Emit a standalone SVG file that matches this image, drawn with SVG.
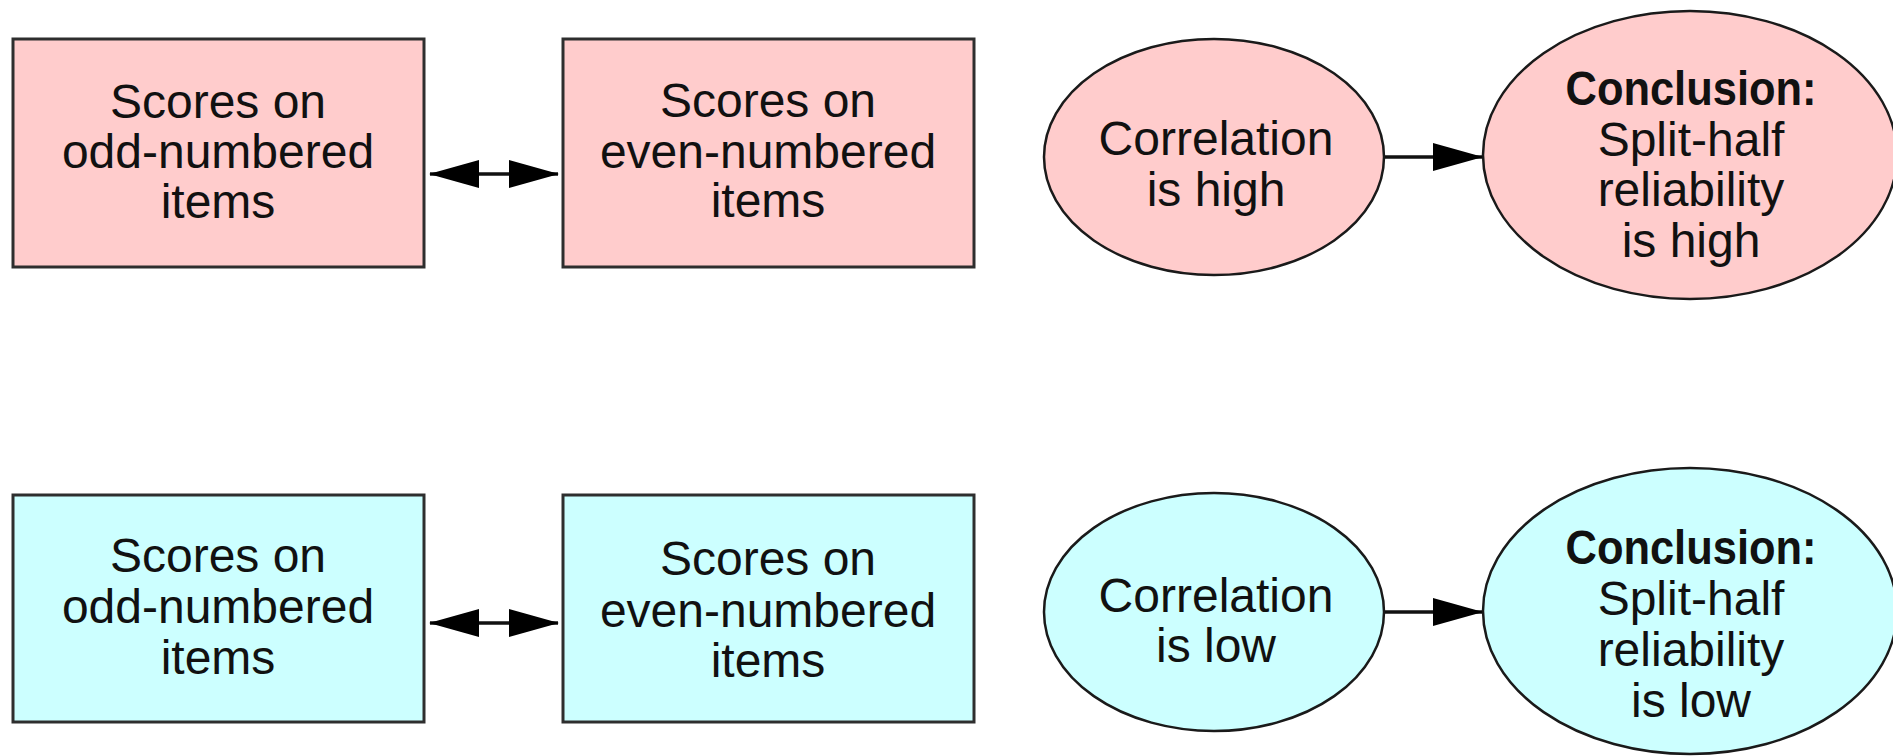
<svg xmlns="http://www.w3.org/2000/svg" width="1893" height="756" viewBox="0 0 1893 756">
  <style>
    .pink { fill: #ffcccc; }
    .cyan { fill: #ccffff; }
    .box { stroke: #2e2e2e; stroke-width: 3; }
    .oval { stroke: #1a1a1a; stroke-width: 2.5; }
    .lbl { font-family: "Liberation Sans", Arial, sans-serif; font-size: 48px; fill: #111; text-anchor: middle; }
    .bold { font-weight: bold; }
    .link { stroke: #111; stroke-width: 3.5; fill: none; }
  </style>
  <defs>
    <marker id="head" viewBox="0 0 50 28" refX="49" refY="14" markerWidth="50" markerHeight="28" markerUnits="userSpaceOnUse" orient="auto-start-reverse">
      <path d="M0,0 L50,14 L0,28 z" fill="#000"/>
    </marker>
  </defs>
  <rect width="1893" height="756" fill="#fff"/>

  <!-- top row: high correlation -->
  <g id="odd-high">
    <rect class="box pink" x="13" y="39" width="411" height="228"/>
    <text class="lbl" x="218" y="118">Scores on</text>
    <text class="lbl" x="218" y="168">odd-numbered</text>
    <text class="lbl" x="218" y="218">items</text>
  </g>
  <g id="even-high">
    <rect class="box pink" x="563" y="39" width="411" height="228"/>
    <text class="lbl" x="768" y="117">Scores on</text>
    <text class="lbl" x="768" y="168">even-numbered</text>
    <text class="lbl" x="768" y="217">items</text>
  </g>
  <g id="corr-high">
    <ellipse class="oval pink" cx="1214" cy="157" rx="170" ry="118"/>
    <text class="lbl" x="1216" y="155">Correlation</text>
    <text class="lbl" x="1216" y="206">is high</text>
  </g>
  <g id="concl-high">
    <ellipse class="oval pink" cx="1690" cy="155" rx="207" ry="144"/>
    <text class="lbl bold" x="1691" y="105" textLength="251" lengthAdjust="spacingAndGlyphs">Conclusion:</text>
    <text class="lbl" x="1691" y="156">Split-half</text>
    <text class="lbl" x="1691" y="206">reliability</text>
    <text class="lbl" x="1691" y="257">is high</text>
  </g>

  <!-- bottom row: low correlation -->
  <g id="odd-low">
    <rect class="box cyan" x="13" y="495" width="411" height="227"/>
    <text class="lbl" x="218" y="572">Scores on</text>
    <text class="lbl" x="218" y="623">odd-numbered</text>
    <text class="lbl" x="218" y="674">items</text>
  </g>
  <g id="even-low">
    <rect class="box cyan" x="563" y="495" width="411" height="227"/>
    <text class="lbl" x="768" y="575">Scores on</text>
    <text class="lbl" x="768" y="627">even-numbered</text>
    <text class="lbl" x="768" y="677">items</text>
  </g>
  <g id="corr-low">
    <ellipse class="oval cyan" cx="1214" cy="612" rx="170" ry="119"/>
    <text class="lbl" x="1216" y="612">Correlation</text>
    <text class="lbl" x="1216" y="662">is low</text>
  </g>
  <g id="concl-low">
    <ellipse class="oval cyan" cx="1690" cy="611" rx="207" ry="143"/>
    <text class="lbl bold" x="1691" y="564" textLength="251" lengthAdjust="spacingAndGlyphs">Conclusion:</text>
    <text class="lbl" x="1691" y="615">Split-half</text>
    <text class="lbl" x="1691" y="666">reliability</text>
    <text class="lbl" x="1691" y="717">is low</text>
  </g>

  <!-- connectors -->
  <g id="connectors">
    <line class="link" x1="430" y1="174" x2="558" y2="174" marker-start="url(#head)" marker-end="url(#head)"/>
    <line class="link" x1="1385" y1="157" x2="1482" y2="157" marker-end="url(#head)"/>
    <line class="link" x1="430" y1="623" x2="558" y2="623" marker-start="url(#head)" marker-end="url(#head)"/>
    <line class="link" x1="1385" y1="612" x2="1482" y2="612" marker-end="url(#head)"/>
  </g>
</svg>
